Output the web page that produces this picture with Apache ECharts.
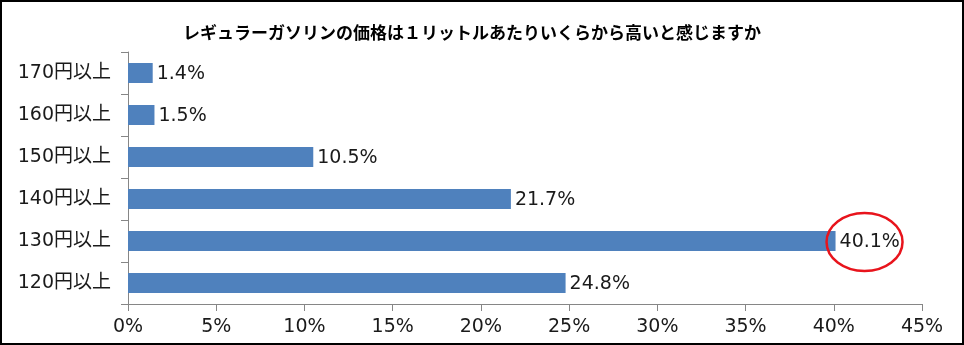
<!DOCTYPE html>
<html><head><meta charset="utf-8">
<script src="https://cdn.jsdelivr.net/npm/echarts@6/dist/echarts.min.js"></script>
<style>html,body{margin:0;padding:0;background:#fff}#c{width:964px;height:345px;box-sizing:border-box;border:2px solid #000}</style>
</head><body><div id="c"></div>
<script>
const title = 'レギュラーガソリンの価格は１リットルあたりいくらから高いと感じますか';
const categories = ['120円以上','130円以上','140円以上','150円以上','160円以上','170円以上'];
const values = [24.8, 40.1, 21.7, 10.5, 1.5, 1.4];
const xTicks = [0,5,10,15,20,25,30,35,40,45];
const highlightIndex = 1;

const chart = echarts.init(document.getElementById('c'), null, {renderer:'canvas'});
const font = '"DejaVu Sans", "Noto Sans CJK JP", sans-serif';
const tfont = '"Noto Sans CJK JP", sans-serif';
chart.setOption({
  animation:false,
  title:{text:title,left:176,top:17,textStyle:{fontFamily:tfont,fontSize:17,fontWeight:'bold',color:'#000'}},
  grid:{left:126,right:40,top:50,bottom:39,containLabel:false},
  xAxis:{type:'value',min:xTicks[0],max:xTicks[xTicks.length-1],interval:5,
    axisLine:{show:true,lineStyle:{color:'#868686'}},
    axisTick:{show:true,length:7,lineStyle:{color:'#868686'}},
    splitLine:{show:false},
    axisLabel:{formatter:'{value}%',fontFamily:font,fontSize:19,color:'#1a1a1a',margin:14}},
  yAxis:{type:'category',data:categories,
    axisLine:{show:true,lineStyle:{color:'#868686'}},
    axisTick:{show:true,length:7,lineStyle:{color:'#868686'}},
    axisLabel:{fontFamily:font,fontSize:19,color:'#1a1a1a',margin:17,padding:[3,0,0,0]}},
  series:[{type:'bar',data:values,barWidth:20,itemStyle:{color:'#4F81BD'},
    label:{show:true,position:'right',distance:4,offset:[0,1.5],formatter:p=>p.value.toFixed(1)+'%',
      fontFamily:font,fontSize:19,color:'#1a1a1a'}}]
});
const pt = chart.convertToPixel({xAxisIndex:0,yAxisIndex:0},[values[highlightIndex], highlightIndex]);
chart.setOption({graphic:[{type:'ellipse',shape:{cx:pt[0]+29,cy:pt[1]+1,rx:38,ry:29},
  style:{fill:'none',stroke:'#E8141C',lineWidth:2.5},z:100}]});
</script></body></html>
